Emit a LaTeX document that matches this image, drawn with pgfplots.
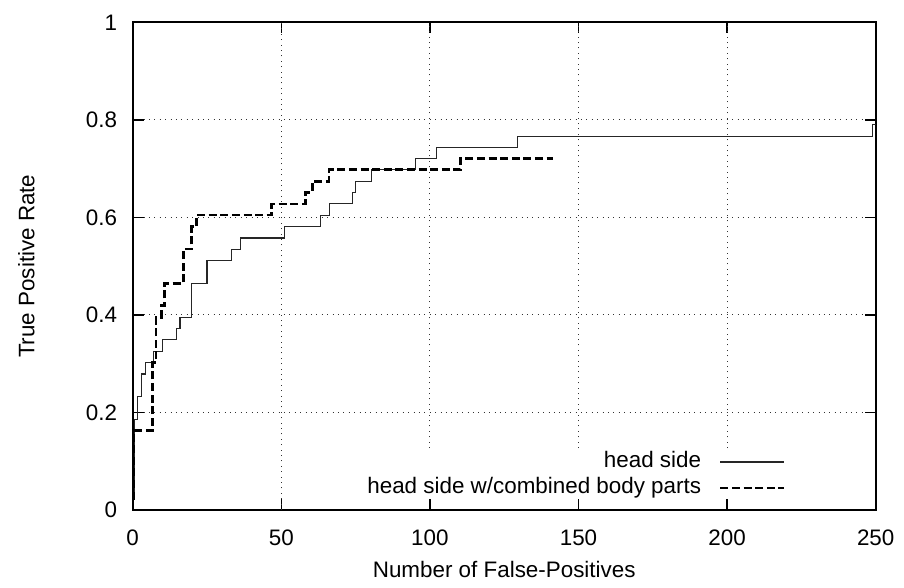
\documentclass[border=0pt]{standalone}
\usepackage{fontspec}
\setmainfont{Liberation Sans}
\usepackage{pgfplots}
\pgfplotsset{compat=1.18}

\begin{document}
\begin{tikzpicture}
\useasboundingbox (-66.35pt,-39pt) rectangle (385.65pt,255pt);
\begin{axis}[
  at={(0,0)},anchor=south west,
  scale only axis,width=371.5pt,height=243.75pt,
  font=\fontsize{11.2}{13}\selectfont,
  xmin=0,xmax=250,ymin=0,ymax=1,
  xtick={0,50,100,150,200,250},
  ytick={0,0.2,0.4,0.6,0.8,1},
  /pgf/number format/assume math mode=true,
  tick pos=both,tick align=inside,major tick length=5.5pt,
  every tick/.style={black,line width=0.8pt},
  axis line style={line width=1pt},
  xticklabel style={yshift=-6.3pt},
  yticklabel style={xshift=-4.3pt},
  ymajorgrids,
  grid style={black!80,line width=0.5pt,dash pattern=on 0.5pt off 2.2pt},
  xlabel={Number of False-Positives},
  ylabel={True Positive Rate},
  xlabel style={at={(axis description cs:0.5,-0.123)},anchor=center},
  ylabel style={at={(axis description cs:-0.143,0.5)},anchor=center},
  legend cell align=right,legend plot pos=right,
  legend image code/.code={\draw[#1] (0pt,0pt) -- (32pt,0pt);},
  legend style={draw=none,fill=none,inner sep=0pt,row sep=2.7pt,column sep=9pt,
    nodes={inner sep=0pt,text height=8pt,text depth=2.3pt},
    at={(axis description cs:0.8794,0.0718)},anchor=east},
]
\draw[black!80,line width=0.5pt,dash pattern=on 0.5pt off 2.2pt] (axis cs:50,0) -- (axis cs:50,1);
\draw[black!80,line width=0.5pt,dash pattern=on 0.5pt off 2.2pt] (axis cs:100,0.127) -- (axis cs:100,1);
\draw[black!80,line width=0.5pt,dash pattern=on 0.5pt off 2.2pt] (axis cs:150,0.127) -- (axis cs:150,1);
\draw[black!80,line width=0.5pt,dash pattern=on 0.5pt off 2.2pt] (axis cs:200,0.127) -- (axis cs:200,1);

% head side
\addplot[const plot,black!85,line width=0.55pt] coordinates {
 (0,0.0233) (0.6,0.186) (1.5,0.233) (3.0,0.279) (4.4,0.302) (6.9,0.326)
 (9.9,0.349) (14.8,0.372) (15.9,0.395) (19.8,0.465) (25.0,0.512) (33.1,0.535)
 (36.3,0.558) (51.1,0.581) (63.2,0.605) (66.2,0.628) (74.1,0.651) (75.1,0.674)
 (80.2,0.698) (95.3,0.721) (102.3,0.744) (129.4,0.767) (248.9,0.791) (250,0.791)
};
% head side w/combined body parts
\addplot[const plot,black,line width=1.3pt,dash pattern=on 4pt off 1.8pt] coordinates {
 (0,0.0233) (0.3,0.163) (6.7,0.302) (7.8,0.395) (9.6,0.419) (10.7,0.465)
 (17.0,0.535) (19.8,0.581) (21.5,0.605) (46.8,0.628) (58.1,0.651) (60.4,0.674)
 (66.0,0.698) (110.3,0.721) (141.4,0.721)
};
\legend{head side,head side w/combined body parts}
\end{axis}
\end{tikzpicture}
\end{document}
